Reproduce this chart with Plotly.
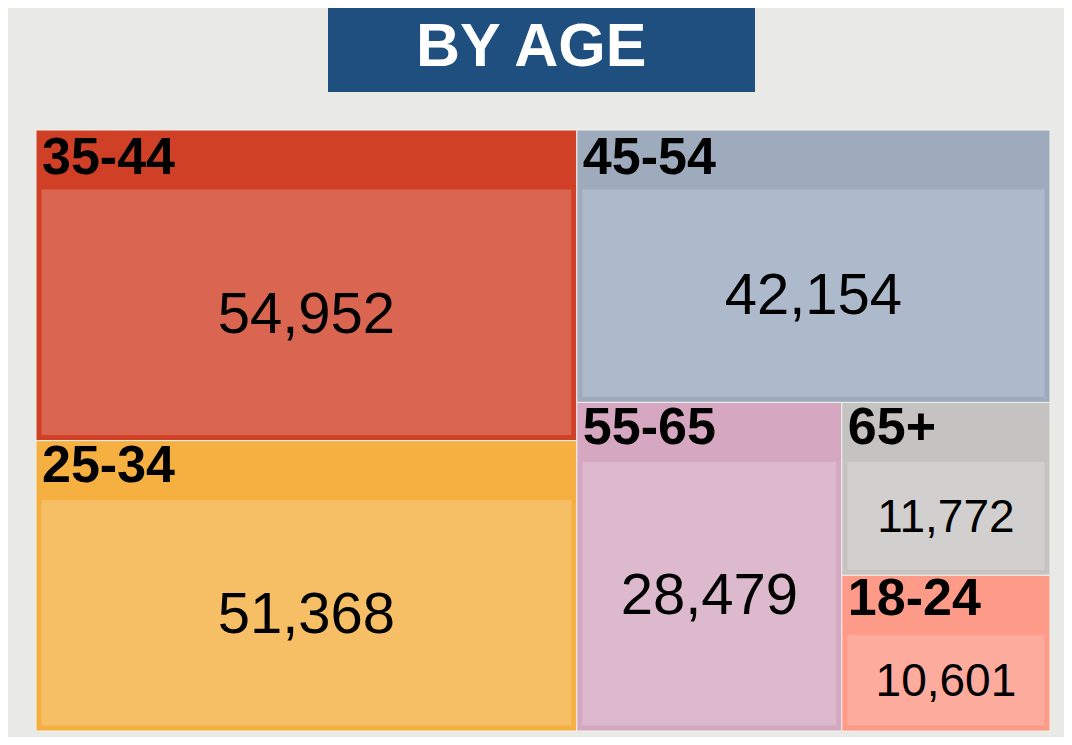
import plotly.graph_objects as go

# Data
groups = ["35-44", "25-34", "45-54", "55-65", "65+", "18-24"]
counts = [54952, 51368, 42154, 28479, 11772, 10601]
parent_colors = ["#cf4027", "#f6b042", "#9dabbd", "#d5a7c0", "#c4c3c1", "#fe9b88"]
child_colors = ["#da6550", "#f6be65", "#adbacb", "#dcb9cc", "#d1d0ce", "#fdab9c"]
title_text = "BY AGE"

OFF = 8  # page body margin
W, H = 1056, 729
ML, MR, MT, MB = 22, 8, 50, 0
PW, PH = W - ML - MR, H - MT - MB
SHIFT = 12 / PH  # header text band sits a little higher than the boxes
FONT = "Liberation Sans, Arial, Helvetica, sans-serif"

ids, labels, parents, values = [], [], [], []
for g, c in zip(groups, counts):
    ids.append(g); labels.append(g); parents.append(""); values.append(c)
for g, c in zip(groups, counts):
    ids.append(g + "/v"); labels.append(f"{c:,}"); parents.append(g); values.append(c)

n = len(groups)
CLEAR = "rgba(0,0,0,0)"
geo_colors = parent_colors + child_colors
line_colors = ["#efefec"] * n + child_colors
header_text = list(groups) + [" "] * n
header_colors = ["black"] * n + [CLEAR] * n
value_text = [" "] * n + [f"{c:,}" for c in counts]
value_colors = [CLEAR] * n + ["black"] * n
value_sizes = [2] * n + [58 if c > 20000 else 46 for c in counts]

common = dict(ids=ids, labels=labels, parents=parents, values=values, branchvalues="total",
              sort=True, tiling=dict(packing="binary", pad=0),
              pathbar=dict(visible=False), hoverinfo="skip")

# geometry
fig = go.Figure(go.Treemap(
    **common,
    domain=dict(x=[0, 1], y=[0, 1 - SHIFT]),
    marker=dict(colors=geo_colors, line=dict(color=line_colors, width=1),
                pad=dict(t=60, l=6, r=6, b=6)),
    text=[" "] * (2 * n), textinfo="text",
    textfont=dict(family=FONT, size=2, color=CLEAR),
))
# group headers (taller header band only for text fitting)
fig.add_trace(go.Treemap(
    **common,
    domain=dict(x=[0, 1], y=[SHIFT, 1]),
    marker=dict(colors=[CLEAR] * (2 * n), line=dict(width=0),
                pad=dict(t=66, l=6, r=6, b=6)),
    text=header_text, textinfo="text", textposition="top left",
    textfont=dict(family=FONT, size=52, color=header_colors, weight="bold"),
))
# value labels, centred in inner boxes
fig.add_trace(go.Treemap(
    **common,
    domain=dict(x=[0, 1], y=[0, 1 - SHIFT]),
    marker=dict(colors=[CLEAR] * (2 * n), line=dict(width=0),
                pad=dict(t=60, l=6, r=6, b=6)),
    text=value_text, textinfo="text", textposition="middle center",
    textfont=dict(family=FONT, size=value_sizes, color=value_colors),
))

def px2x(sx):
    return (sx - OFF - ML) / PW

def px2y(sy):
    return (H - MB - (sy - OFF)) / PH

fig.add_shape(type="rect", xref="paper", yref="paper",
              x0=px2x(328), x1=px2x(755), y0=px2y(92), y1=px2y(3),
              fillcolor="#1f4f7e", line=dict(width=0), layer="above")
fig.add_annotation(xref="paper", yref="paper", x=px2x(531), y=px2y(45),
                   text=f"<b>{title_text}</b>", showarrow=False,
                   font=dict(family=FONT, size=61, color="white"),
                   xanchor="center", yanchor="middle")

fig.update_layout(width=W, height=H, margin=dict(l=ML, r=MR, t=MT, b=MB),
                  paper_bgcolor="#e9e9e6", plot_bgcolor="#e9e9e6")
fig.write_html("out.html")
